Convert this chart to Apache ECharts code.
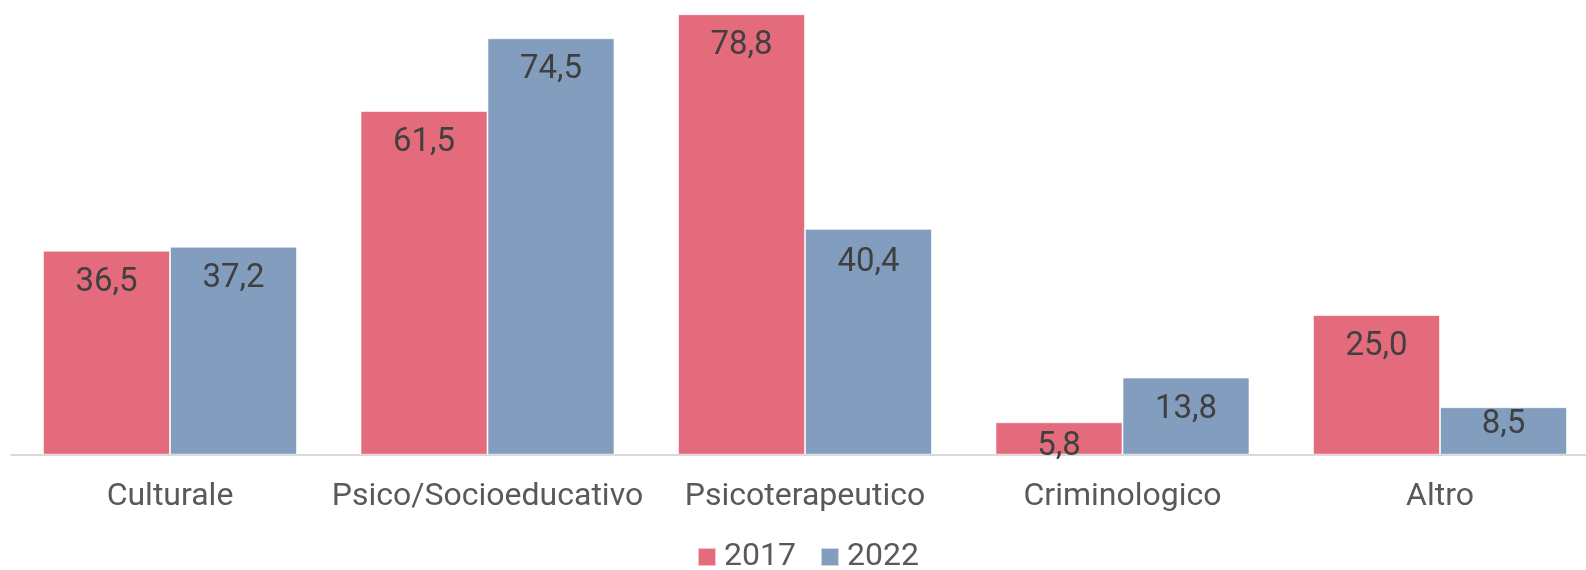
<!DOCTYPE html>
<html>
<head>
<meta charset="utf-8">
<script src="https://cdn.jsdelivr.net/npm/echarts@6/dist/echarts.min.js"></script>
<style>html,body{margin:0;padding:0;background:#fff;overflow:hidden;}#c{width:1600px;height:570px;}</style>
</head>
<body>
<div id="c"></div>
<script>
const categories = ['Culturale', 'Psico/Socioeducativo', 'Psicoterapeutico', 'Criminologico', 'Altro'];
const seriesNames = ['2017', '2022'];
const values2017 = [36.5, 61.5, 78.8, 5.8, 25.0];
const values2022 = [37.2, 74.5, 40.4, 13.8, 8.5];

const colors = ['#E36B7C', '#829DBE'];
// label distance tweaks for short bars (style only)
const labelDist = [[15.5, 15.5, 15.5, 7.5, 15.5], [15.5, 15.5, 17, 15.5, 1.5]];

const fmt = v => v.toFixed(1).replace('.', ',');

function makeSeries(name, vals, si) {
  return {
    name: name,
    type: 'bar',
    barGap: '0%',
    barCategoryGap: '20%',
    itemStyle: { color: colors[si], borderColor: 'rgba(255,255,255,0.6)', borderWidth: 1 },
    data: vals.map((v, i) => ({
      value: v,
      label: { distance: labelDist[si][i] }
    })),
    label: {
      show: true,
      position: 'insideTop',
      color: '#404040',
      fontFamily: 'Roboto',
      fontSize: 33,
      lineHeight: 33,
      formatter: p => fmt(p.value)
    }
  };
}

const chart = echarts.init(document.getElementById('c'), null, { renderer: 'canvas' });
chart.setOption({
  animation: false,
  backgroundColor: '#ffffff',
  grid: { left: 11.25, width: 1587.5, top: 7.5, bottom: 115.3, containLabel: false },
  legend: {
    data: seriesNames,
    left: 697,
    top: 541,
    padding: 0,
    itemWidth: 18,
    itemHeight: 18,
    itemGap: 24,
    icon: 'rect',
    textStyle: { color: '#595959', fontFamily: 'Roboto', fontSize: 32, padding: [0, 0, 0, 3] }
  },
  xAxis: {
    type: 'category',
    data: categories,
    axisLine: { show: true, lineStyle: { color: '#D9D9D9', width: 2 } },
    axisTick: { show: false },
    axisLabel: { color: '#595959', fontFamily: 'Roboto', fontSize: 32, margin: 26, interval: 0 }
  },
  yAxis: {
    type: 'value',
    min: 0,
    max: 80,
    show: false,
    splitLine: { show: false }
  },
  series: [
    makeSeries(seriesNames[0], values2017, 0),
    makeSeries(seriesNames[1], values2022, 1)
  ]
});
</script>
</body>
</html>
